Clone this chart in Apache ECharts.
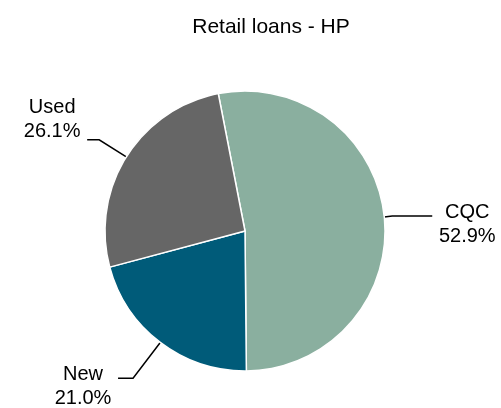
<!DOCTYPE html>
<html><head><meta charset="utf-8">
<script src="https://cdn.jsdelivr.net/npm/echarts@6/dist/echarts.min.js"></script>
<style>html,body{margin:0;background:#fff}#c{width:501px;height:408px}</style>
</head><body><div id="c"></div>
<script>
// Retail loans (HP) split by product
const categories = ['CQC', 'New', 'Used'];
const shares = [52.9, 21.0, 26.1];
const colors = ['#8aaf9f', '#005b79', '#666666'];

// leader line lengths and label padding per slice
const lineLen = [[8, 40], [45, 15], [32, 12]];
const labelPad = [[16, 0, 0, 0], [16, 0, 0, 0], [0, 0, 40, 0]];

const chart = echarts.init(document.getElementById('c'), null, { renderer: 'canvas' });
chart.setOption({
  animation: false,
  backgroundColor: '#fff',
  title: {
    text: 'Retail loans - HP',
    left: 266, top: 12, textAlign: 'center',
    textStyle: { fontFamily: 'Liberation Sans', fontSize: 21, fontWeight: 'normal', color: '#000' }
  },
  series: [{
    type: 'pie',
    center: [245, 231],
    radius: 140,
    startAngle: 101,
    clockwise: true,
    avoidLabelOverlap: false,
    itemStyle: { borderColor: '#fff', borderWidth: 1.5 },
    label: {
      show: true,
      position: 'outside',
      distanceToLabelLine: 3,
      formatter: p => '{t|' + p.name + '}\n{t|' + p.value.toFixed(1) + '%}',
      rich: {
        t: { fontFamily: 'Liberation Sans', fontSize: 20, lineHeight: 24, color: '#000', width: 64, align: 'center' }
      }
    },
    labelLine: { lineStyle: { color: '#000', width: 1.5 } },
    emphasis: { disabled: true },
    data: categories.map((name, i) => ({
      name,
      value: shares[i],
      itemStyle: { color: colors[i] },
      label: { padding: labelPad[i] },
      labelLine: { length: lineLen[i][0], length2: lineLen[i][1] }
    }))
  }]
});
</script></body></html>
